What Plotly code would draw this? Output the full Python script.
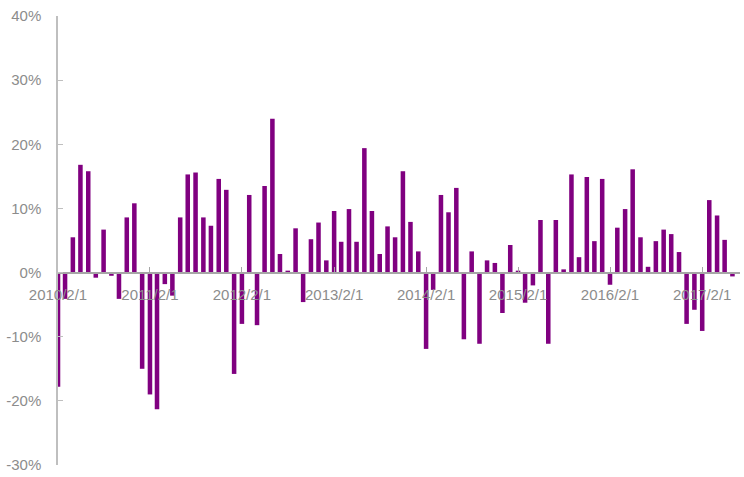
import plotly.graph_objects as go
import pandas as pd

# ---------------------------
# DATA
# ---------------------------

months = pd.date_range("2010-02-01", "2017-06-01", freq="MS")

changes = [
    -17.8, -4.1, 5.5, 16.8, 15.8, -0.8, 6.7, -0.5, -4.1, 8.6, 10.8, -15.0,
    -19.0, -21.3, -1.8, -3.6, 8.6, 15.3, 15.6, 8.6, 7.3, 14.6, 12.9, -15.8,
    -8.0, 12.1, -8.2, 13.5, 24.0, 2.9, 0.3, 6.9, -4.6, 5.2, 7.8, 1.9,
    9.6, 4.8, 9.9, 4.8, 19.4, 9.6, 2.9, 7.2, 5.5, 15.8, 7.9, 3.3,
    -11.9, -2.7, 12.1, 9.4, 13.2, -10.4, 3.3, -11.1, 1.9, 1.5, -6.3, 4.3,
    0.3, -4.7, -2.0, 8.2, -11.1, 8.2, 0.5, 15.3, 2.4, 14.9, 4.9, 14.6,
    -1.9, 7.0, 9.9, 16.1, 5.5, 0.9, 4.9, 6.7, 6.0, 3.2, -8.0, -5.8,
    -9.1, 11.3, 8.9, 5.1, -0.6,
]
values = [v / 100 for v in changes]

tick_dates = ["2010-02-01", "2011-02-01", "2012-02-01", "2013-02-01",
              "2014-02-01", "2015-02-01", "2016-02-01", "2017-02-01"]
tick_text = ["2010/2/1", "2011/2/1", "2012/2/1", "2013/2/1",
             "2014/2/1", "2015/2/1", "2016/2/1", "2017/2/1"]

y_ticks = [-0.3, -0.2, -0.1, 0, 0.1, 0.2, 0.3, 0.4]
y_text = ["-30%", "-20%", "-10%", "0%", "10%", "20%", "30%", "40%"]

# ---------------------------
# CHART
# ---------------------------

fig = go.Figure(
    go.Bar(
        x=months,
        y=values,
        width=18 * 24 * 3600 * 1000,
        marker=dict(color="#800080", line=dict(width=0)),
    )
)

fig.update_layout(
    width=744,
    height=477,
    margin=dict(l=58, r=4, t=16, b=12),
    paper_bgcolor="white",
    plot_bgcolor="white",
    showlegend=False,
    font=dict(family="Liberation Sans", size=15, color="#8c8c8c"),
    xaxis=dict(
        type="date",
        range=["2010-02-01", "2017-07-01"],
        anchor="free",
        position=3 / 7,
        automargin=False,
        showgrid=False,
        zeroline=False,
        showline=True,
        linecolor="#a6a6a6",
        linewidth=2,
        ticks="inside",
        ticklen=5,
        tickcolor="#a6a6a6",
        tickvals=tick_dates,
        ticktext=tick_text,
        ticklabelstandoff=8,
    ),
    yaxis=dict(
        range=[-0.3, 0.4],
        automargin=False,
        showgrid=False,
        zeroline=False,
        showline=True,
        linecolor="#bfbfbf",
        linewidth=1.5,
        ticks="inside",
        ticklen=5,
        tickcolor="#bfbfbf",
        tickvals=y_ticks,
        ticktext=y_text,
        ticklabelstandoff=12,
    ),
)

# drop the default page margin so the figure sits at the window corner
fig.write_html(
    "out.html",
    config={"displayModeBar": False},
    post_script="document.body.style.margin = '0';",
)
